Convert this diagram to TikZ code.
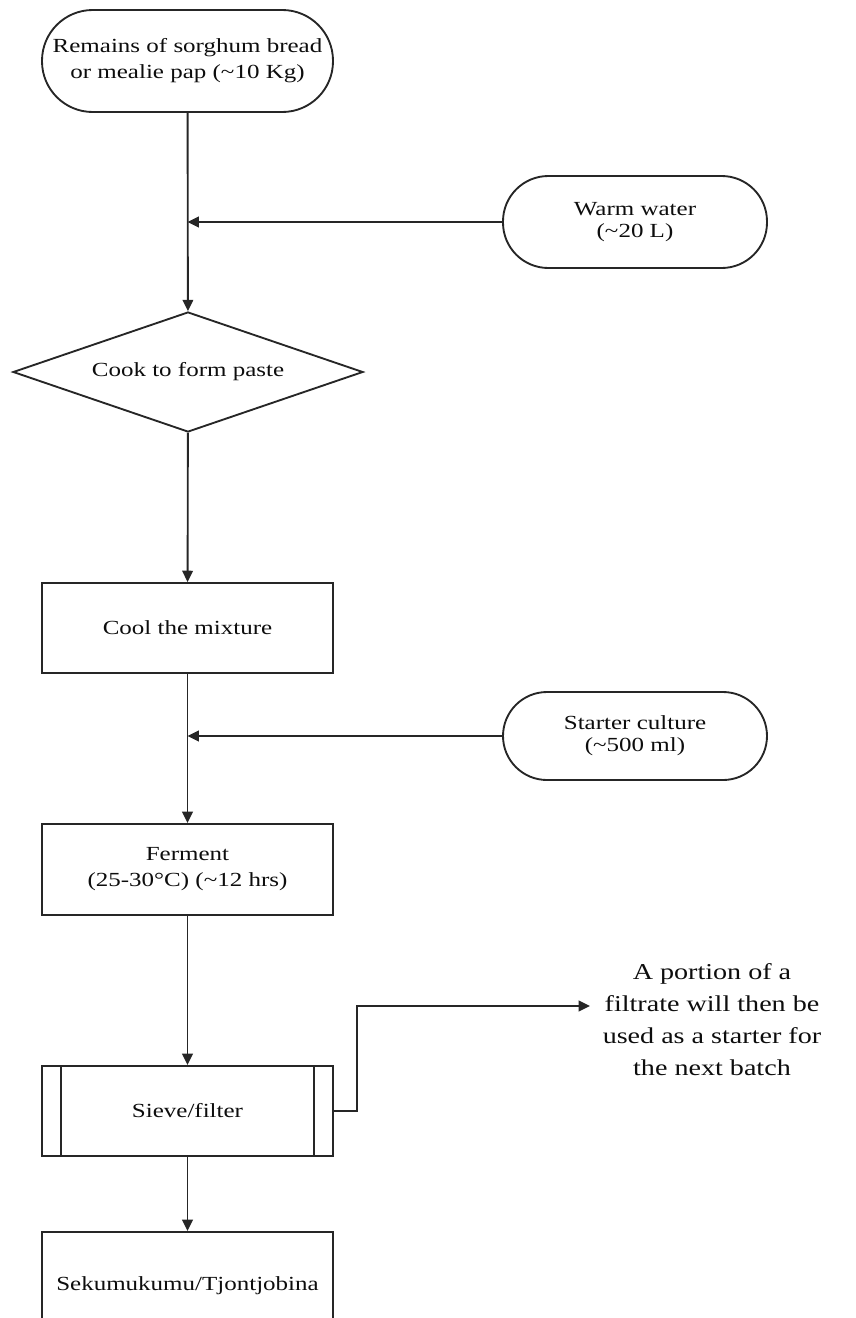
\documentclass[tikz,border=0pt]{standalone}
\usepackage{fontspec}
\setmainfont{Liberation Serif}[FakeStretch=1.25]
\newfontfamily\notefont{Liberation Serif}[FakeStretch=1.24]
\usetikzlibrary{shapes.geometric,arrows.meta}

\begin{document}
\begin{tikzpicture}[
    x=0.75pt, y=-0.75pt,
    every node/.style={font=\fontsize{15pt}{19.5pt}\selectfont, text=black!95, align=center},
    line/.style={draw=black!85, line width=1.4pt},
    arr/.style={line, -{Triangle[length=8.5pt,width=8pt]}},
    terminal/.style={line, rectangle, rounded corners=#1, inner sep=0pt},
    process/.style={line, rectangle, minimum width=218.25pt, inner sep=0pt},
  ]
  % page frame
  \useasboundingbox (0,0) rectangle (856,1318);
  \clip (0,0) rectangle (856,1318);

  % raw material
  \node[terminal=38pt, minimum width=218.25pt, minimum height=76.5pt] (src) at (187.5,61)
    {Remains of sorghum bread\\or mealie pap (\textasciitilde10 Kg)};

  % water added
  \node[terminal=34pt, minimum width=198pt, minimum height=69pt,
        font=\fontsize{15pt}{16.5pt}\selectfont] (water) at (635,222)
    {Warm water\\(\textasciitilde20 L)};

  % cooking step
  \node[line, diamond, shape aspect=2.9167, minimum width=262.5pt, minimum height=90pt,
        inner sep=0pt] (cook) at (188,372) {Cook to form paste};

  % cooling step
  \node[process, minimum height=67.5pt] (cool) at (187.5,628) {Cool the mixture};

  % starter added
  \node[terminal=33pt, minimum width=198pt, minimum height=66pt,
        font=\fontsize{15pt}{16.5pt}\selectfont] (starter) at (635,736)
    {Starter culture\\(\textasciitilde500 ml)};

  % fermentation
  \node[process, minimum height=68.25pt] (ferm) at (187.5,869.5)
    {Ferment\\(25-30°C) (\textasciitilde12 hrs)};

  % sieving (predefined process box)
  \node[process, minimum height=67.5pt] (sieve) at (187.5,1111) {Sieve/filter};
  \draw[line] ([xshift=15pt]sieve.north west) -- ([xshift=15pt]sieve.south west);
  \draw[line] ([xshift=-15pt]sieve.north east) -- ([xshift=-15pt]sieve.south east);

  % product
  \node[process, minimum height=81pt] (final) at (187.5,1286) {Sekumukumu/Tjontjobina};

  % note on reuse of the filtrate
  \coordinate (tip) at (590,1006);
  \node[font=\notefont\fontsize{17pt}{24pt}\selectfont, anchor=center] (note) at (712,1020)
    {A portion of a\\filtrate will then be\\used as a starter for\\the next batch};

  % main flow
  \draw[arr] (src) -- (cook);
  \draw[arr] (water.west) -- (water.west -| src.south);
  \draw[arr] (cook) -- (cool);
  \draw[arr] (cool) -- (ferm);
  \draw[arr] (starter.west) -- (starter.west -| cool.south);
  \draw[arr] (ferm) -- (sieve);
  \draw[arr] (sieve) -- (final);
  \draw[arr] (sieve.east) -- ++(23,0) |- (tip);
\end{tikzpicture}
\end{document}
